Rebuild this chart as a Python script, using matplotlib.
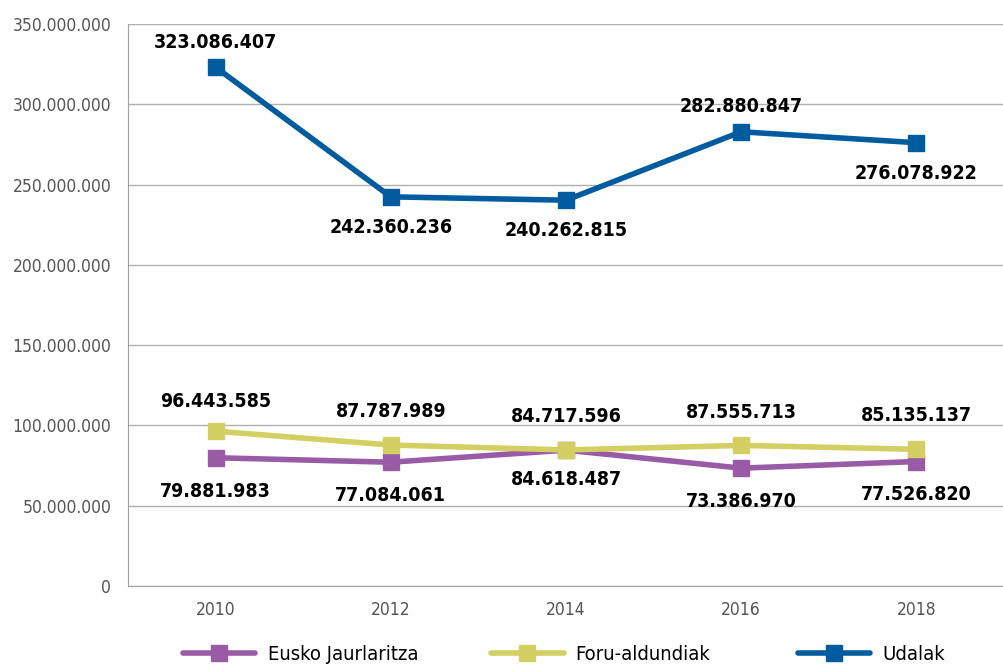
import matplotlib
matplotlib.use("Agg")
import matplotlib.pyplot as plt
from matplotlib.ticker import FuncFormatter, MultipleLocator
from matplotlib.lines import Line2D

years = ["2010", "2012", "2014", "2016", "2018"]
eusko = [79881983, 77084061, 84618487, 73386970, 77526820]
foru = [96443585, 87787989, 84717596, 87555713, 85135137]
udalak = [323086407, 242360236, 240262815, 282880847, 276078922]
series_names = ["Eusko Jaurlaritza", "Foru-aldundiak", "Udalak"]
udalak_label_pos = ["above", "below", "below", "above", "below"]

colors = ["#9A5BA6", "#D3CF62", "#005C9E"]

plt.rcParams['font.family'] = ['DejaVu Sans']
plt.rcParams['font.stretch'] = 'condensed'

def fmt(v):
    return f"{int(round(v)):,}".replace(",", ".")

fig = plt.figure(figsize=(10.04, 6.66), dpi=100)
ax = fig.add_axes([128/1004, 80/666, (1004-128)/1004, (586-24)/666])

x = list(range(len(years)))
for vals, c, name in zip([eusko, foru, udalak], colors, series_names):
    ax.plot(x, vals, color=c, lw=4, marker="s", ms=12, solid_capstyle="round", zorder=3)

lab_kw = dict(ha="center", va="center", fontsize=14, fontweight="bold", color="black")
for i, v in enumerate(udalak):
    off = 18 if udalak_label_pos[i] == "above" else -22
    ax.annotate(fmt(v), (i, v), xytext=(0, off), textcoords="offset points", **lab_kw)
for i, v in enumerate(foru):
    ax.annotate(fmt(v), (i, v), xytext=(0, 21 if i == 0 else 24), textcoords="offset points", **lab_kw)
for i, v in enumerate(eusko):
    ax.annotate(fmt(v), (i, v), xytext=(0, -24 if i != 2 else -21), textcoords="offset points", **lab_kw)

ax.set_xlim(-0.5, 4.5)
ax.set_ylim(0, 350000000)
ax.yaxis.set_major_locator(MultipleLocator(50000000))
ax.yaxis.set_major_formatter(FuncFormatter(lambda v, p: fmt(v)))
ax.set_xticks(x)
ax.set_xticklabels(years)
ax.grid(axis="y", color="#B0B0B0", lw=1)
ax.set_axisbelow(True)
for s in ["top", "right"]:
    ax.spines[s].set_visible(False)
ax.spines["left"].set_color("#A0A0A0")
ax.spines["bottom"].set_color("#A0A0A0")
ax.tick_params(axis="both", length=0, labelsize=12.5, labelcolor="#555555")
ax.tick_params(axis="y", pad=12)
ax.tick_params(axis="x", pad=11)

legend_x = [183/1004, 491/1004, 798/1004]
for h_c, name, lx in zip(colors, series_names, legend_x):
    h = Line2D([0], [0], color=h_c, lw=4, marker="s", ms=12, solid_capstyle="round")
    fig.legend([h], [name], loc="center left", bbox_to_anchor=(lx, 11/666),
               frameon=False, fontsize=14.5, handlelength=3.6, handletextpad=0.6,
               borderpad=0, borderaxespad=0)

fig.savefig("out.png", dpi=100)
